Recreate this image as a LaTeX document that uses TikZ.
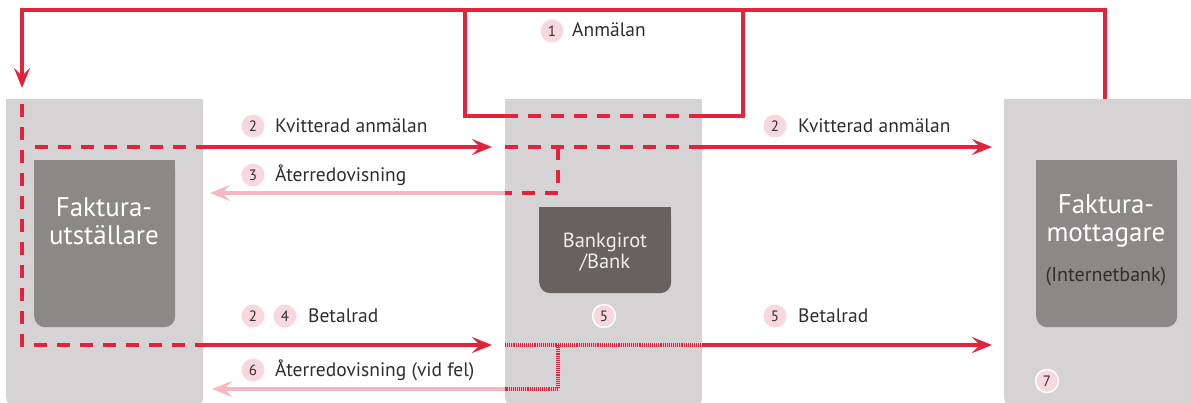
\documentclass[tikz,border=0pt]{standalone}
\usepackage{fontspec}
\setmainfont{PT Sans}
\usetikzlibrary{arrows.meta}
\definecolor{rd}{HTML}{E3223C}
\definecolor{pk}{HTML}{F5B7C1}
\definecolor{cf}{HTML}{F8D8DE}
\definecolor{gb}{HTML}{D5D3D4}
\definecolor{gi}{HTML}{8C8887}
\definecolor{gd}{HTML}{67625F}
\definecolor{tx}{HTML}{2E2E2E}
\begin{document}
\begin{tikzpicture}[x=1pt,y=-1pt,line join=miter,
  obox/.style={fill=gb,rounded corners=7pt,inner sep=0pt,anchor=north west},
  ibox/.style={fill=gi,rounded corners=11pt,inner sep=0pt,anchor=north west},
  redline/.style={draw=rd,line width=4pt},
  reddash/.style={draw=rd,line width=4pt,dash pattern=on 13pt off 10pt},
  reddot/.style={draw=rd,line width=4pt,dash pattern=on 1.1pt off 1pt},
  pinkline/.style={draw=pk,line width=3.5pt},
  tipR/.style={-{Stealth[length=20pt,width=16pt,inset=8pt]}},
  num/.style={circle,fill=cf,minimum size=23pt,inner sep=0pt,text=tx,font=\fontsize{15}{15}\selectfont},
  numw/.style={num,draw=white,line width=1.5pt},
  lbl/.style={anchor=base west,inner sep=0pt,text=tx,font=\fontsize{19.5}{21}\selectfont},
  big/.style={align=center,text=white,font=\fontsize{27}{28}\selectfont}]
\useasboundingbox (0,0) rectangle (1191,403);
% outer boxes
\node[obox,minimum width=197pt,minimum height=306pt] (fu) at (6,99) {};
\fill[gb] (6,99) rectangle (203,120);
\node[obox,minimum width=197pt,minimum height=306pt] (bg) at (505,99) {};
\fill[gb] (505,99) rectangle (702,120);
\node[obox,minimum width=197pt,minimum height=306pt] (fm) at (1004,99) {};
\fill[gb] (1004,99) rectangle (1201,120);
% inner boxes
\node[ibox,minimum width=141pt,minimum height=167pt] (fui) at (34,160) {};
\fill[gi] (34,160) rectangle (175,180);
\node[ibox,fill=gd,minimum width=132pt,minimum height=86pt] (bgi) at (539,207) {};
\fill[gd] (539,207) rectangle (671,227);
\node[ibox,minimum width=141pt,minimum height=167pt] (fmi) at (1036,160) {};
\fill[gi] (1036,160) rectangle (1177,180);
% box texts
\node[big] (tfu) at (104,221) {Faktura-\\utställare};
\node[big] (tfm) at (1106,221) {Faktura-\\mottagare};
\node[text=tx,font=\fontsize{20}{21}\selectfont] (tib) at (1106,277) {(Internetbank)};
\node[align=center,text=white!93!black,font=\fontsize{20.5}{21}\selectfont] (tbg) at (605,252) {Bankgirot\\/Bank};
% coordinates
\coordinate (a1) at (1105,99);
\coordinate (c1) at (22,10);
\coordinate (a2) at (22,88);
\coordinate (r1) at (465,10);
\coordinate (r2) at (465,116);
\coordinate (r3) at (505,116);
\coordinate (r4) at (702,116);
\coordinate (r5) at (743,116);
\coordinate (r6) at (743,10);
\coordinate (u0) at (35,147);
\coordinate (u1) at (203,147);
\coordinate (u2) at (492,147);
\coordinate (u3) at (505,147);
\coordinate (u4) at (702,147);
\coordinate (u5) at (992,147);
\coordinate (uk) at (558,147);
\coordinate (uk2) at (558,193);
\coordinate (p1) at (505,193);
\coordinate (p2) at (210,193);
\coordinate (d0) at (22,104);
\coordinate (d1) at (22,345);
\coordinate (b1) at (203,345);
\coordinate (b2) at (492,345);
\coordinate (b3) at (505,345);
\coordinate (b4) at (702,345);
\coordinate (b5) at (992,345);
\coordinate (bk) at (558,345);
\coordinate (bk2) at (558,389);
\coordinate (q1) at (505,389);
\coordinate (q2) at (212,389);
% top loop
\draw[redline,tipR] (a1) |- (c1) -- (a2);
\draw[redline] (r1) -- (r2) -- (r3);
\draw[reddash] (r3) -- (r4);
\draw[redline] (r4) -- (r5) -- (r6);
% upper row
\draw[reddash] (u0) -- (u1);
\draw[redline,tipR] (u1) -- (u2);
\draw[reddash] (u3) -- (u4);
\draw[redline,tipR] (u4) -- (u5);
\draw[pinkline,tipR] (p1) -- (p2);
\draw[reddash] (uk) -- (uk2) -- (p1);
% lower row
\draw[reddash] (d0) -- (d1) -- (b1);
\draw[redline,tipR] (b1) -- (b2);
\draw[redline,tipR] (b4) -- (b5);
\draw[pinkline,tipR] (q1) -- (q2);
\draw[pinkline] (b3) -- (b4);
\draw[pinkline] (bk) -- (bk2) -- (q1);
\draw[reddot] (b3) -- (b4);
\draw[reddot] (bk) -- (bk2) -- (q1);
% labels
\node[num] (n1) at (552,31) {1};
\node[lbl] (l1) at (572,37) {Anmälan};
\node[num] (n2a) at (253,126) {2};
\node[lbl] (l2a) at (275,133) {Kvitterad anmälan};
\node[num] (n2b) at (775,126) {2};
\node[lbl] (l2b) at (798,133) {Kvitterad anmälan};
\node[num] (n3) at (253,175) {3};
\node[lbl] (l3) at (275,182) {Återredovisning};
\node[num] (n2c) at (253,316) {2};
\node[num] (n4) at (285,316) {4};
\node[lbl] (l4) at (308,323) {Betalrad};
\node[numw] (n5a) at (604,316) {5};
\node[num] (n5b) at (775,316) {5};
\node[lbl] (l5) at (798,323) {Betalrad};
\node[num] (n6) at (253,370) {6};
\node[lbl] (l6) at (275,376) {Återredovisning (vid fel)};
\node[numw] (n7) at (1047,381) {7};
\end{tikzpicture}
\end{document}
